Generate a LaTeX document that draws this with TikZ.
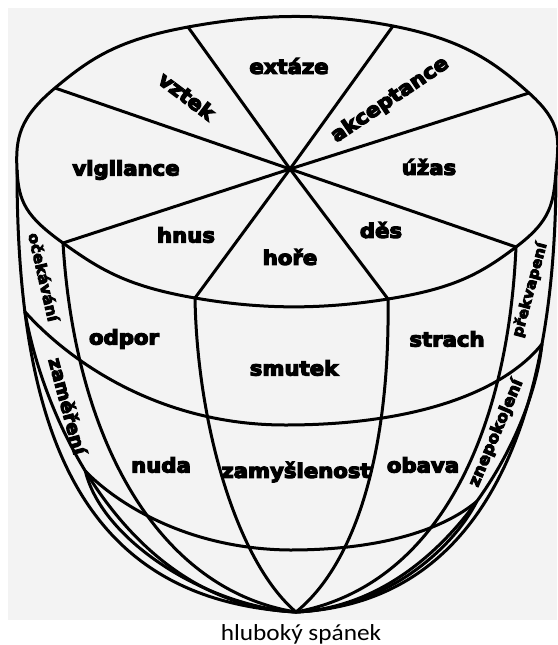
\documentclass[tikz,border=0pt]{standalone}
\usepackage{fontspec}
\usepackage{graphicx}
\setmainfont{DejaVu Sans}
\newfontfamily\heavy{DejaVu Sans Bold}[FakeBold=6]
\newfontfamily\capfont{Carlito}
\definecolor{bgray}{RGB}{243,243,243}
\newcommand{\sx}[1]{\scalebox{1.06}[1]{#1}}
\begin{document}
\begin{tikzpicture}[x=1pt,y=-1pt,
  ln/.style={line width=3pt, line cap=round, line join=round},
  lab/.style={inner sep=0pt, font=\heavy\fontsize{20}{20}\selectfont},
  slab/.style={inner sep=0pt, font=\heavy\fontsize{#1}{#1}\selectfont}]
\useasboundingbox (0,0) rectangle (557,645);
\fill[white] (0,0) rectangle (557,645);
\fill[bgray] (8,8) rectangle (557,620);

% key points
\coordinate (hub) at (290,169);
\coordinate (B) at (296,612);
\coordinate (lt) at (17,170);
\coordinate (rt) at (556,172);
\coordinate (p1) at (188,27);
\coordinate (p2) at (393,26);
\coordinate (p3) at (55,88);
\coordinate (p4) at (529,93);
\coordinate (p5) at (63,243);
\coordinate (p6) at (516,247);
\coordinate (p7) at (195,298);
\coordinate (p8) at (388,299);

% top face
\draw[ln] plot[smooth cycle, tension=0.75] coordinates {(lt) (p3) (p1) (p2) (p4) (rt) (p6) (p8) (p7) (p5)};
\foreach \p in {p1,p2,p3,p4,p5,p6,p7,p8} \draw[ln] (hub) -- (\p);

% outer silhouettes
\draw[ln] (lt) .. controls (17,440) and (85,600) .. (B) coordinate[pos=0.19] (e1l);
\draw[ln] (rt) .. controls (556,420) and (485,603) .. (B) coordinate[pos=0.25] (e1r);
% band 2
\coordinate (e1m) at (285,425);
\draw[ln] (e1l) .. controls (70,362) and (160,425) .. (e1m) .. controls (420,425) and (505,390) .. (e1r);
% second silhouettes
\draw[ln] (e1l) .. controls (48,440) and (140,606) .. (B) coordinate[pos=0.4] (e2l);
\draw[ln] (e1r) .. controls (532,440) and (440,605) .. (B) coordinate[pos=0.47] (e2r);
% band 3
\coordinate (e2m) at (290,550);
\draw[ln] (e2l) .. controls (110,497) and (180,549) .. (e2m) .. controls (385,550) and (445,528) .. (e2r);
% third silhouettes
\draw[ln] (e2l) .. controls (102,540) and (205,606) .. (B);
\draw[ln] (e2r) .. controls (455,545) and (390,608) .. (B);
% meridians
\draw[ln] (p5) .. controls (75,440) and (158,590) .. (B);
\draw[ln] (p7) .. controls (197,420) and (235,560) .. (B);
\draw[ln] (p8) .. controls (390,440) and (360,560) .. (B);
\draw[ln] (p6) .. controls (508,430) and (440,585) .. (B);

% labels top
\node[lab] (extaze) at (289,66) {\sx{extáze}};
\node[lab, rotate=-37] (vztek) at (187,96) {\sx{vztek}};
\node[lab, rotate=34] (akcept) at (390,100) {\sx{akceptance}};
\node[lab] (vigil) at (126,170) {\sx{vigilance}};
\node[lab] (uzas) at (429,167) {\sx{úžas}};
\node[lab] (hnus) at (186,235) {\sx{hnus}};
\node[lab] (hore) at (290,257) {\sx{hoře}};
\node[lab] (des) at (381,230) {\sx{děs}};
% labels sides
\node[lab] (odpor) at (124,339) {\sx{odpor}};
\node[lab] (smutek) at (294,368) {\sx{smutek}};
\node[lab] (strach) at (447,339) {\sx{strach}};
\node[lab] (nuda) at (161,465) {\sx{nuda}};
\node[lab] (zamysl) at (296,472) {\sx{zamyšlenost}};
\node[lab] (obava) at (423,465) {\sx{obava}};
% strip labels
\node[slab=15, rotate=-77] (ocek) at (44,277) {\sx{očekávání}};
\node[slab=18, rotate=-75] (zamer) at (68,406) {\sx{zaměření}};
\node[slab=14.5, rotate=75] (prekv) at (530,290) {\sx{překvapení}};
\node[slab=16, rotate=67] (znep) at (496,433) {\sx{znepokojení}};
% caption
\node[inner sep=0pt, anchor=base, font=\capfont\fontsize{23}{23}\selectfont] (cap) at (301,640.5) {\scalebox{1.1}[1]{hluboký spánek}};
\end{tikzpicture}
\end{document}
